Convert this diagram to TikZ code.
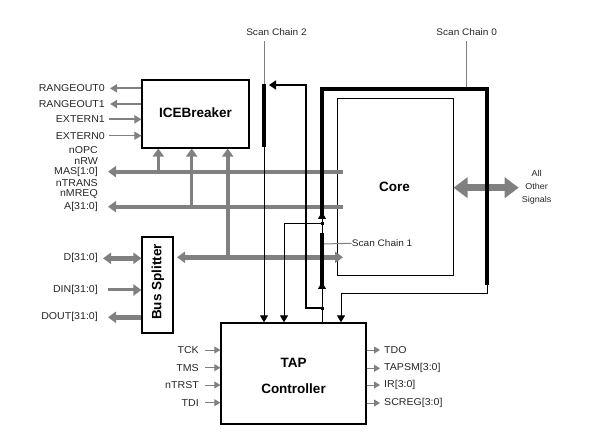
\documentclass[tikz,border=0pt]{standalone}
\usepackage{fontspec}
\setmainfont{Liberation Sans}
\newfontfamily\labfont{Liberation Sans}[FakeStretch=1.06]
\usetikzlibrary{arrows.meta}
\definecolor{busgray}{gray}{0.5}
\definecolor{txtgray}{gray}{0.15}
\begin{document}
\begin{tikzpicture}[x=1pt,y=-1pt,
  blk/.style={draw,line width=1.1pt,inner sep=0pt,minimum width=#1},
  lab/.style={font=\labfont\fontsize{10}{11}\selectfont,text=txtgray,inner sep=0pt},
  bigtxt/.style={font=\fontsize{13.5}{15}\selectfont\bfseries,inner sep=0pt},
  busln/.style={draw=busgray,line width=#1},
  bhead/.style={-{Triangle[length=8pt,width=11pt]}},
  bhead2/.style={{Triangle[length=8pt,width=11pt]}-{Triangle[length=8pt,width=11pt]}},
  shead/.style={-{Triangle[length=6pt,width=7pt]}},
  khead/.style={-{Triangle[length=7pt,width=8pt]}},
  sig/.style={draw=busgray,line width=#1},
  thinl/.style={draw,line width=1pt},
  chainlab/.style={font=\labfont\fontsize{9.5}{11}\selectfont,text=txtgray,inner sep=0pt}
]
\useasboundingbox (0,0) rectangle (599,435);

% ---- boxes ----
\node[blk=107pt,minimum height=68pt] (ice) at (195.5,114) {};
\node[bigtxt] (icet) at (195.5,113) {ICEBreaker};
\node[draw,line width=1pt,inner sep=0pt,minimum width=116pt,minimum height=177pt] (core) at (395,187.5) {};
\node[bigtxt] (coret) at (394.5,187) {Core};
\node[blk=31pt,minimum height=96pt] (bsp) at (157.5,285) {};
\node[bigtxt,rotate=90] (bspt) at (158,282) {Bus Splitter};
\node[blk=145pt,minimum height=101pt,line width=1.3pt] (tap) at (293.5,373.5) {};
\node[bigtxt] (tapt1) at (293.5,363) {TAP};
\node[bigtxt] (tapt2) at (293.5,389) {Controller};

% ---- left labels of ICEBreaker ----
\node[lab,anchor=east] (r0) at (105,88.3) {RANGEOUT0};
\node[lab,anchor=east] (r1) at (105,104) {RANGEOUT1};
\node[lab,anchor=east] (e1) at (105,119.3) {EXTERN1};
\node[lab,anchor=east] (e0) at (105,135.7) {EXTERN0};
\draw[sig=2pt,bhead,-{Triangle[length=7pt,width=8pt]}] (ice.west |- r0) -- ([xshift=5pt]r0.east);
\draw[sig=2pt,-{Triangle[length=7pt,width=8pt]}] (ice.west |- r1) -- ([xshift=5pt]r1.east);
\draw[sig=2pt,-{Triangle[length=7pt,width=8pt]}] ([xshift=4pt]e1.east) -- (ice.west |- e1);
\draw[sig=1pt,-{Triangle[length=7pt,width=8pt]}] ([xshift=4pt]e0.east) -- (ice.west |- e0);

\node[lab,anchor=east] (nopc) at (98,150) {nOPC};
\node[lab,anchor=east] (nrw) at (98,161.5) {nRW};
\node[lab,anchor=east] (mas) at (98,171.7) {MAS[1:0]};
\node[lab,anchor=east] (ntr) at (98,183.3) {nTRANS};
\node[lab,anchor=east] (nmr) at (98,194) {nMREQ};
\node[lab,anchor=east] (abus) at (98,206.7) {A[31:0]};
\node[lab,anchor=east] (dbus) at (98,258.3) {D[31:0]};
\node[lab,anchor=east] (din) at (98,290) {DIN[31:0]};
\node[lab,anchor=east] (dout) at (98,317.3) {DOUT[31:0]};

% coordinates of bus ends
\coordinate (masR) at (343,171.7);
\coordinate (aR) at (343,206.7);
\coordinate (dR) at (343,257.3);
\coordinate (dL) at (177,257.3);

% ---- gray buses ----
\draw[busln=4pt,bhead] (masR) -- ([xshift=10pt]mas.east |- masR);
\draw[busln=4pt,bhead] (aR) -- ([xshift=10pt]abus.east |- aR);
\draw[busln=4.5pt,bhead2] (dL) -- (dR);
\draw[busln=2.8pt,bhead] (158.3,171.7) -- (ice.south -| 158.3,0);
\draw[busln=2.8pt,bhead] (191.7,206.7) -- (ice.south -| 191.7,0);
\draw[busln=4pt,bhead] (227.7,257.3) -- (ice.south -| 227.7,0);
\draw[busln=4.5pt,bhead2] ([xshift=5pt]dbus.east) -- (bsp.west |- dbus);
\draw[busln=3pt,bhead] ([xshift=10pt]din.east) -- (bsp.west |- din);
\draw[busln=4.5pt,bhead] (bsp.west |- dout) -- ([xshift=10pt]dout.east);

% ---- All other signals ----
\node[font=\labfont\fontsize{8.5}{13}\selectfont,text=txtgray,align=center,inner sep=0pt] (aos) at (536.7,187) {All\\Other\\Signals};
\draw[busln=7pt,{Triangle[length=14pt,width=20pt]}-{Triangle[length=14pt,width=20pt]}] (core.east |- 0,187.7) -- ([xshift=-3pt]aos.west |- 0,187.7);

% ---- TAP signals ----
\foreach \n/\t/\y in {tck/TCK/350,tms/TMS/367.7,ntrst/nTRST/385,tdi/TDI/402.7}{
  \node[lab,anchor=east] (\n) at (199,\y) {\t};
  \draw[sig=1pt,shead] ([xshift=6pt]\n.east) -- (tap.west |- \n);
}
\foreach \n/\t/\y in {tdo/TDO/350,tapsm/TAPSM[3:0]/368.3,ir/IR[3:0]/385,screg/SCREG[3:0]/403}{
  \node[lab,anchor=west] (\n) at (384,\y) {\t};
  \draw[sig=1pt,shead] (tap.east |- \n) -- ([xshift=-4pt]\n.west);
}

% ---- scan chain labels ----
\node[chainlab] (sc2) at (276.5,31.7) {Scan Chain 2};
\node[chainlab] (sc0) at (466.7,31.7) {Scan Chain 0};
\node[chainlab,anchor=west] (sc1) at (351.7,243.3) {Scan Chain 1};
\draw[busgray,line width=1pt] (264,41) -- (264,84);
\draw[busgray,line width=1pt] (466.7,41) -- (466.7,89);
\draw[busgray,line width=1pt] (322,244) -- (sc1.west);

% ---- scan chain wiring ----
\coordinate (j1) at (322,224);
\coordinate (j2) at (322,308);
\draw[line width=3.7pt] (264,84) -- (264,147);
\draw[thinl,khead] (264,147) -- (tap.north -| 264,0);
\draw[line width=1.5pt,-{Triangle[length=7pt,width=9pt]}] (j2) -- (306,308) -- (306,85) -- (269,85);
\draw[thinl] (tap.north -| 322,0) -- (j2);
\draw[thinl,khead] (j2) -- (322,282);
\draw[line width=3.3pt] (322,285) -- (322,233);
\draw[thinl,khead] (322,233) -- (322,212);
\draw[line width=4.3pt,line join=miter] (322,217) -- (322,89) -- (487,89) -- (487,285);
\draw[thinl,khead] (487,284) -- (487,294) -- (341,294) -- (tap.north -| 341,0);
\draw[thinl,khead] (j1) -- (284,224) -- (tap.north -| 284,0);
\fill (j1) +(-1.5,-1.5) rectangle +(1.5,1.5);
\fill (j2) +(-1.5,-1.5) rectangle +(1.5,1.5);
\end{tikzpicture}
\end{document}
